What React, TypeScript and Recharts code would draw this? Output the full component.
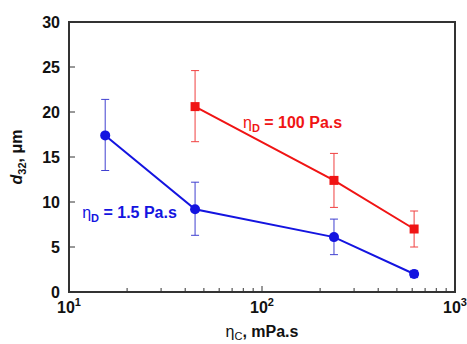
import { LineChart, Line, XAxis, YAxis, ErrorBar, ReferenceArea, ReferenceDot } from "recharts";

// continuous phase viscosity, mPa.s
const blueVisc = [15.4, 45, 236, 614];
const blueD32 = [17.4, 9.2, 6.1, 2.0];
const blueErr = [
  [3.9, 4.0],
  [2.9, 3.0],
  [1.95, 2.0],
  [0.4, 0.4],
];

const redVisc = [45, 236, 614];
const redD32 = [20.6, 12.4, 7.0];
const redErr = [
  [3.9, 4.0],
  [3.0, 3.0],
  [2.0, 2.0],
];

const xTicks = [10, 20, 30, 40, 50, 60, 70, 80, 90, 100, 200, 300, 400, 500, 600, 700, 800, 900, 1000];
const xMajor = [10, 100, 1000];
const xMajorExp = ["1", "2", "3"];
const yTicks = [0, 5, 10, 15, 20, 25, 30];

const blueData = blueVisc.map((v, i) => ({ visc: v, d32: blueD32[i], err: blueErr[i] }));
const redData = redVisc.map((v, i) => ({ visc: v, d32: redD32[i], err: redErr[i] }));

const FONT = "'Liberation Sans', Arial, sans-serif";
const RED = "#f01414";
const BLUE = "#1414e0";
const AXIS = "#333";

function XTick(props: any) {
  const { x, y, payload } = props;
  const idx = xMajor.indexOf(payload.value);
  const major = idx >= 0;
  return (
    <g>
      <line x1={x} y1={y} x2={x} y2={y - (major ? 6 : 4)} stroke={AXIS} strokeWidth={1} />
      {major ? (
        <text x={x} y={y + 21} textAnchor="middle" fontFamily={FONT} fontWeight="bold" fontSize={16} fill="#111">
          <tspan>10</tspan>
          <tspan dy={-7} fontSize={11}>{xMajorExp[idx]}</tspan>
        </text>
      ) : null}
    </g>
  );
}

function YTick(props: any) {
  const { x, y, payload } = props;
  return (
    <g>
      <line x1={x} y1={y} x2={x + 6} y2={y} stroke={AXIS} strokeWidth={1} />
      <text x={x - 9} y={y + 6} textAnchor="end" fontFamily={FONT} fontWeight="bold" fontSize={16} fill="#111">
        {payload.value}
      </text>
    </g>
  );
}

function Square(props: any) {
  const { cx, cy } = props;
  if (cx == null || cy == null) return null;
  return <rect x={cx - 4.5} y={cy - 4.5} width={9} height={9} fill={RED} />;
}

function makeLabel(text: string, color: string) {
  return (props: any) => {
    const vb = props.viewBox || {};
    const cx = vb.x + (vb.width || 0) / 2;
    const cy = vb.y + (vb.height || 0) / 2;
    return (
      <text x={cx} y={cy + 6} textAnchor="start" fontFamily={FONT} fontSize={16} fontWeight="bold" fill={color}>
        <tspan fontWeight="normal">η</tspan>
        <tspan dy={4} fontSize={11}>D</tspan>
        <tspan dy={-4}>{text}</tspan>
      </text>
    );
  };
}

function YTitle(props: any) {
  const vb = props.viewBox;
  const cy = vb.y + vb.height / 2;
  return (
    <text
      x={22}
      y={cy}
      transform={`rotate(-90 22 ${cy})`}
      textAnchor="middle"
      fontFamily={FONT}
      fontSize={16}
      fontWeight="bold"
      fill="#111"
    >
      <tspan fontStyle="italic">d</tspan>
      <tspan dy={4} fontSize={11}>32</tspan>
      <tspan dy={-4}>, μm</tspan>
    </text>
  );
}

function XTitle(props: any) {
  const vb = props.viewBox;
  const cx = vb.x + vb.width / 2;
  return (
    <text x={cx} y={337} textAnchor="middle" fontFamily={FONT} fontSize={16} fontWeight="bold" fill="#111">
      <tspan fontWeight="normal">η</tspan>
      <tspan dy={3} fontSize={11} fontWeight="normal">C</tspan>
      <tspan dy={-3}>, mPa.s</tspan>
    </text>
  );
}

export default function App() {
  return (
    <div style={{ width: 467, height: 344, background: "#fff" }}>
      <style>{"body{margin:0}"}</style>
      <LineChart width={467} height={344} margin={{ top: 22, right: 12, left: 0, bottom: 0 }}>
        <XAxis
          dataKey="visc"
          type="number"
          scale="log"
          domain={[10, 1000]}
          ticks={xTicks}
          interval={0}
          allowDataOverflow
          height={52}
          axisLine={false}
          tickLine={false}
          tickSize={0}
          tickMargin={0}
          tick={<XTick />}
          label={{ content: <XTitle /> }}
        />
        <YAxis
          type="number"
          domain={[0, 30]}
          ticks={yTicks}
          interval={0}
          width={69}
          axisLine={false}
          tickLine={false}
          tickSize={0}
          tickMargin={0}
          tick={<YTick />}
          label={{ content: <YTitle /> }}
        />
        <ReferenceArea x1={10} x2={1000} y1={0} y2={30} fill="none" stroke={AXIS} strokeWidth={2} ifOverflow="visible" />
        <Line
          data={redData}
          dataKey="d32"
          stroke={RED}
          strokeWidth={2}
          dot={<Square />}
          isAnimationActive={false}
        >
          <ErrorBar dataKey="err" direction="y" width={4} stroke="#f04040" strokeWidth={1} />
        </Line>
        <Line
          data={blueData}
          dataKey="d32"
          stroke={BLUE}
          strokeWidth={2}
          dot={{ r: 5, fill: BLUE, stroke: BLUE, strokeWidth: 0 }}
          isAnimationActive={false}
        >
          <ErrorBar dataKey="err" direction="y" width={4} stroke="#4040d0" strokeWidth={1} />
        </Line>
        <ReferenceDot x={79.7} y={18.9} r={0} fill="none" stroke="none" label={{ content: makeLabel(" = 100 Pa.s", RED) }} />
        <ReferenceDot x={11.7} y={8.9} r={0} fill="none" stroke="none" label={{ content: makeLabel(" = 1.5 Pa.s", BLUE) }} />
      </LineChart>
    </div>
  );
}
